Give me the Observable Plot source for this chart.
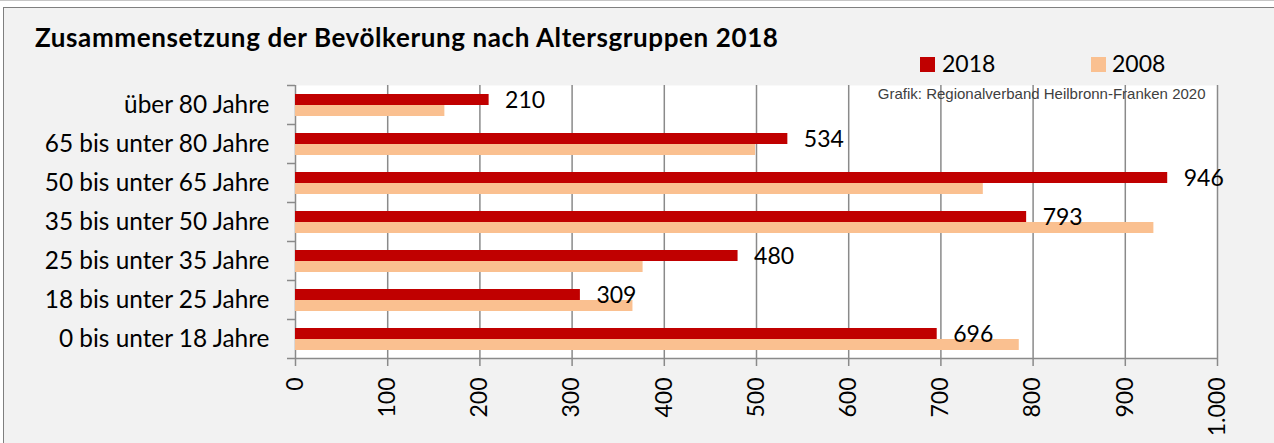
<!DOCTYPE html>
<html><head><meta charset="utf-8">
<script src="https://cdn.jsdelivr.net/npm/d3@7"></script>
<script src="https://cdn.jsdelivr.net/npm/@observablehq/plot@0.6"></script>
<style>
html,body{margin:0;padding:0;background:#fff;}
#root{position:relative;width:1274px;height:443px;overflow:hidden;font-family:Lato, sans-serif;}
#topline{position:absolute;left:0;top:0;width:1274px;height:1px;background:#c6c6c6;}
#frame{position:absolute;left:3px;top:7px;width:1300px;height:460px;background:#f2f2f2;border-left:1px solid #7f7f7f;border-top:1px solid #7f7f7f;}
#title{position:absolute;left:35px;top:24px;font-weight:700;font-size:26px;letter-spacing:0.6px;line-height:1;color:#000;white-space:nowrap;}
.sw{position:absolute;width:15px;height:15px;top:57px;}
.lt{position:absolute;top:52px;font-size:23px;line-height:1;color:#000;white-space:nowrap;}
#chart{position:absolute;left:0;top:75px;}
</style>
</head><body>
<div id="root">
  <div id="topline"></div>
  <div id="frame"></div>
  <div id="title"></div>
  <div id="legend"></div>
  <div id="chart"></div>
</div>
<script>
const titleText = "Zusammensetzung der Bevölkerung nach Altersgruppen 2018";
const sourceText = "Grafik: Regionalverband Heilbronn-Franken 2020";
const categories = ["über 80 Jahre","65 bis unter 80 Jahre","50 bis unter 65 Jahre","35 bis unter 50 Jahre","25 bis unter 35 Jahre","18 bis unter 25 Jahre","0 bis unter 18 Jahre"];
const values2018 = [210,534,946,793,480,309,696];
const values2008 = [162,499,746,931,377,366,785];
const seriesNames = ["2018","2008"];
const seriesColors = ["#c00000","#fac090"];
const xTicks = [0,100,200,300,400,500,600,700,800,900,1000];

document.getElementById("title").textContent = titleText;
const legend = document.getElementById("legend");
const legendPos = [[920,942],[1091,1112]];
seriesNames.forEach((n,i)=>{
  const s = document.createElement("div"); s.className="sw"; s.style.left=legendPos[i][0]+"px"; s.style.background=seriesColors[i];
  const t = document.createElement("div"); t.className="lt"; t.style.left=legendPos[i][1]+"px"; t.textContent=n;
  legend.appendChild(s); legend.appendChild(t);
});

const rows = categories.map((c,i)=>({cat:c, v2018:values2018[i], v2008:values2008[i]}));
const de = d3.formatLocale({decimal:",", thousands:".", grouping:[3], currency:["","€"]});
const fmt = de.format(",");
const W = 1274, H = 368, mT = 10, mB = 85, mL = 295, mR = 57;
const halfBand = (H - mT - mB) / categories.length / 2;
const gridColor = "#8a8a8a";

const plot = Plot.plot({
  width:W, height:H, marginTop:mT, marginBottom:mB, marginLeft:mL, marginRight:mR,
  style:{background:"transparent", fontFamily:"Lato, sans-serif", fontSize:"23px", color:"#000", overflow:"visible"},
  x:{domain:[0,1000]},
  y:{type:"band", domain:categories, padding:0},
  marks:[
    Plot.frame({fill:"#fff", stroke:null}),
    Plot.ruleX(xTicks, {x:d=>d, stroke:gridColor, strokeWidth:1.5}),
    Plot.barX(rows, {x:"v2008", y:"cat", fill:seriesColors[1], insetTop:20, insetBottom:8}),
    Plot.barX(rows, {x:"v2018", y:"cat", fill:seriesColors[0], insetTop:9, insetBottom:19}),
    Plot.ruleY(categories, {y:d=>d, x1:0, x2:0, insetLeft:-8, dy:-halfBand, stroke:gridColor, strokeWidth:1.5}),
    Plot.ruleY(categories.slice(-1), {y:d=>d, x1:0, x2:1000, insetLeft:-8, dy:halfBand, stroke:gridColor, strokeWidth:1.5}),
    Plot.axisX({ticks:xTicks, tickFormat:fmt, tickSize:8, tickRotate:-90, tickPadding:11, stroke:gridColor, strokeWidth:1.5, label:null, fontSize:23}),
    Plot.axisY({tickSize:0, tickPadding:26, label:null, fontSize:24.4}),
    Plot.text(rows, {x:"v2018", y:"cat", text:d=>String(d.v2018), dx:16, dy:-4, textAnchor:"start", fontSize:23, fill:"#000"}),
    Plot.text([sourceText], {frameAnchor:"top-right", dx:-12, dy:3, lineAnchor:"top", fontFamily:"'Liberation Sans', Arial, sans-serif", fontSize:15, fill:"#404040"})
  ]
});
document.getElementById("chart").appendChild(plot);
</script>
</body></html>
